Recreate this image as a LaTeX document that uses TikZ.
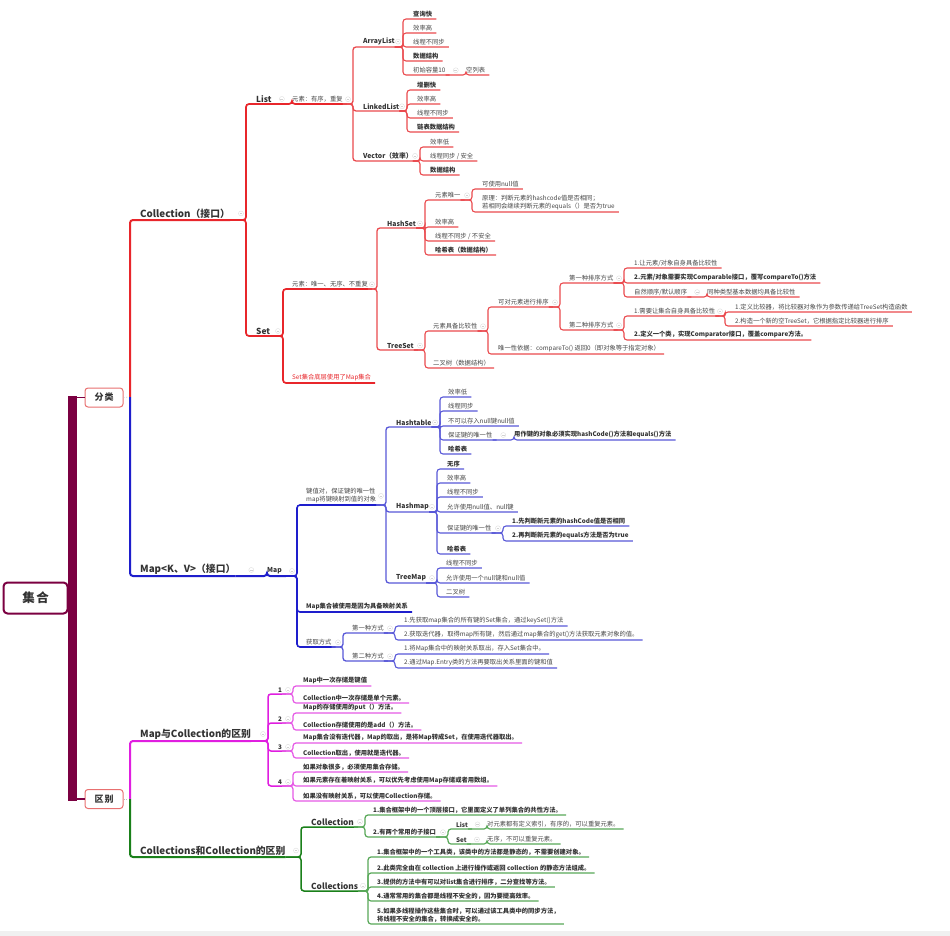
\documentclass[tikz,border=0pt]{standalone}
\usepackage{fontspec}
\setmainfont{Noto Sans CJK SC}
\usetikzlibrary{calc}
\definecolor{cred}{HTML}{E8262B}
\definecolor{credl}{HTML}{EA4A4E}
\definecolor{cblue}{HTML}{1E1ECC}
\definecolor{cbluel}{HTML}{5858D8}
\definecolor{cmag}{HTML}{E01EE0}
\definecolor{cmagl}{HTML}{E65AE6}
\definecolor{cgreen}{HTML}{1A801A}
\definecolor{cgreenl}{HTML}{58A858}
\definecolor{maroon}{HTML}{7B0041}
\definecolor{txt}{HTML}{474747}
\definecolor{txtb}{HTML}{333333}
\definecolor{boxr}{HTML}{E87070}
\newcommand\lk[4]{\draw[#1] (#2.south east) -- (#2.south east -| #3) |- ($(#4.south east)+(4,0)$);}
\tikzset{
  tx/.style={anchor=south west, inner xsep=0pt, inner ysep=1.6pt, text=txt, align=left, font=\fontsize{6.3}{7.8}\selectfont},
  txb/.style={tx, text=txtb, font=\fontsize{6.3}{7.8}\selectfont\bfseries},
  hd/.style={tx, text=txtb, font=\fontsize{6.8}{8}\selectfont\bfseries},
  hdm/.style={tx, text=txtb, font=\fontsize{8.3}{9.5}\selectfont\bfseries},
  big/.style={tx, text=txtb, font=\fontsize{9.8}{11}\selectfont\bfseries},
  redtx/.style={tx, text=cred},
  boxn/.style={draw=boxr, line width=1pt, rounded corners=3pt, fill=white, text=txtb, font=\fontsize{9}{10}\selectfont\bfseries, minimum width=38pt, minimum height=19pt, inner sep=0pt},
  rootbox/.style={draw=maroon, line width=2pt, rounded corners=4pt, fill=white, text=txtb, font=\fontsize{12.5}{14}\selectfont\bfseries, minimum width=64pt, minimum height=31pt, inner sep=0pt},
  br/.style={rounded corners=3pt},
  lR0/.style={br, cred, line width=2pt}, lR1/.style={br, cred, line width=1.7pt}, lR2/.style={br, credl, line width=1.3pt}, lR3/.style={br, credl, line width=1.1pt},
  lB0/.style={br, cblue, line width=2pt}, lB1/.style={br, cblue, line width=1.6pt}, lB2/.style={br, cbluel, line width=1.3pt}, lB3/.style={br, cbluel, line width=1.1pt},
  lM0/.style={br, cmag, line width=2pt}, lM1/.style={br, cmag, line width=1.5pt}, lM2/.style={br, cmagl, line width=1.2pt},
  lG0/.style={br, cgreen, line width=2pt}, lG1/.style={br, cgreen, line width=1.5pt}, lG2/.style={br, cgreenl, line width=1.2pt},
  fold/.style={circle, draw=gray!28, line width=0.35pt, inner sep=0pt, minimum size=5pt, fill=white,
    path picture={\draw[gray!35, line width=0.35pt] ([xshift=-1.4pt]path picture bounding box.center) -- ([xshift=1.4pt]path picture bounding box.center);}},
}
\begin{document}
\begin{tikzpicture}[x=1pt,y=-1pt]
\useasboundingbox (0,0) rectangle (950,936);
\fill[white] (0,0) rectangle (950,936);
\fill[gray!12] (0,931) rectangle (950,936);
% bus coordinates
\coordinate (b0) at (130,397);
\coordinate (b1) at (130,799);
\coordinate (vC) at (246,0);   \coordinate (vL) at (353,0);
\coordinate (vA) at (403,0);   \coordinate (vK) at (407,0);
\coordinate (vV) at (420,0);   \coordinate (vS) at (283,0);
\coordinate (vSE) at (377,0);  \coordinate (vH) at (425,0);
\coordinate (vH1) at (472,0);  \coordinate (vT) at (425,0);
\coordinate (vT1) at (488,0);  \coordinate (vT11) at (560,0);
\coordinate (vT111) at (624,0);\coordinate (vS1) at (725,0);
\coordinate (vM) at (297,0);   \coordinate (vM1) at (386,0);
\coordinate (vHt) at (440,0);  \coordinate (vHm) at (437,0);
\coordinate (vHm5) at (503,0); \coordinate (vTm) at (437,0);
\coordinate (vM3) at (343,0);  \coordinate (vG) at (395,0);
\coordinate (vMC) at (268,0);  \coordinate (vN) at (293,0);
\coordinate (vCC) at (301,0);  \coordinate (vC1) at (365,0);
\coordinate (vC12) at (448,0); \coordinate (vC2) at (368,0);

% root
\fill[maroon] (68,396) rectangle (77,801);
\node[rootbox] (root) at (35.5,598) {集\hspace{1.5pt}合};
\node[boxn] (fenlei) at (104,397.5) {分\hspace{1pt}类};
\node[boxn] (qubie) at (104,799) {区\hspace{1pt}别};
\draw[maroon, line width=1.6pt] (77,397.5) -- (fenlei.west);
\draw[maroon, line width=1.6pt] (77,799) -- (qubie.west);
\draw[gray!50, dotted, line width=0.8pt] (fenlei.east) -- (b0);
\draw[gray!50, dotted, line width=0.8pt] (qubie.east) -- (b1);

% ===== Collection branch =====
\node[big] (coll) at (140,220) {Collection（接口）};
\node[hdm] (list) at (256,104) {List};
\node[tx] (lel) at (292,104) {元素：有序，重复};
\node[hd] (arr) at (363,47) {ArrayList};
\node[txb] (a1) at (413,19) {查询快};
\node[tx] (a2) at (413,33) {效率高};
\node[tx] (a3) at (413,47) {线程不同步};
\node[txb] (a4) at (413,61) {数据结构};
\node[tx] (a5) at (413,75) {初始容量10};
\node[tx] (a6) at (466,75) {空列表};
\node[hd] (lnk) at (363,111) {LinkedList};
\node[txb] (k1) at (417,90) {增删快};
\node[tx] (k2) at (417,104) {效率高};
\node[tx] (k3) at (417,118) {线程不同步};
\node[txb] (k4) at (417,132) {链表数据结构};
\node[hd] (vec) at (363,161) {Vector（效率）};
\node[tx] (v1) at (430,147) {效率低};
\node[tx] (v2) at (430,161) {线程同步 / 安全};
\node[txb] (v3) at (430,175) {数据结构};
\node[hdm] (set) at (256,336) {Set};
\node[tx] (sel) at (292,289) {元素：唯一、无序、不重复};
\node[hd] (hs) at (387,228) {HashSet};
\node[tx] (h1) at (435,200) {元素唯一};
\node[tx] (h11) at (482,189) {可使用null值};
\node[tx] (h12) at (482,212) {原理：判断元素的hashcode值是否相同；\\若相同会继续判断元素的equals（）是否为true};
\node[tx] (h2) at (435,227) {效率高};
\node[tx] (h3) at (435,241) {线程不同步 / 不安全};
\node[txb] (h4) at (435,255) {哈希表（数据结构）};
\node[hd] (ts) at (387,350) {TreeSet};
\node[tx] (t1) at (433,331) {元素具备比较性};
\node[tx] (t11) at (498,307) {可对元素进行排序};
\node[tx] (t111) at (569,283) {第一种排序方式};
\node[tx] (f1) at (634,268) {1.让元素/对象自身具备比较性};
\node[txb] (f2) at (634,283) {2.元素/对象需要实现Comparable接口，覆写compareTo()方法};
\node[tx] (f3) at (634,297) {自然顺序/默认顺序};
\node[tx] (f31) at (707,297) {同种类型基本数据均具备比较性};
\node[tx] (t112) at (569,330) {第二种排序方式};
\node[tx] (s1) at (634,316) {1.需要让集合自身具备比较性};
\node[tx] (s11) at (735,312) {1.定义比较器，将比较器对象作为参数传递给TreeSet构造函数};
\node[tx] (s12) at (735,326) {2.构造一个新的空TreeSet，它根据指定比较器进行排序};
\node[txb] (s2) at (634,340) {2.定义一个类，实现Comparator接口，覆盖compare方法。};
\node[tx] (t12) at (498,354) {唯一性依据：compareTo() 返回0（即对象等于指定对象）};
\node[tx] (t2) at (433,368) {二叉树（数据结构）};
\node[redtx] (sred) at (292,383) {Set集合底层使用了Map集合};

\draw[lR0] (b0) |- (coll.south east);
\lk{lR1}{coll}{vC}{list} \lk{lR1}{coll}{vC}{set}
\lk{lR1}{list}{lel.south west}{lel}
\foreach \c in {arr,lnk,vec} {\lk{lR2}{lel}{vL}{\c}}
\foreach \c in {a1,a2,a3,a4,a5} {\lk{lR3}{arr}{vA}{\c}}
\lk{lR3}{a5}{a6.south west}{a6}
\foreach \c in {k1,k2,k3,k4} {\lk{lR3}{lnk}{vK}{\c}}
\foreach \c in {v1,v2,v3} {\lk{lR3}{vec}{vV}{\c}}
\lk{lR1}{set}{vS}{sel} \lk{lR1}{set}{vS}{sred}
\lk{lR2}{sel}{vSE}{hs} \lk{lR2}{sel}{vSE}{ts}
\foreach \c in {h1,h2,h3,h4} {\lk{lR3}{hs}{vH}{\c}}
\lk{lR3}{h1}{vH1}{h11} \lk{lR3}{h1}{vH1}{h12}
\lk{lR3}{ts}{vT}{t1} \lk{lR3}{ts}{vT}{t2}
\lk{lR3}{t1}{vT1}{t11} \lk{lR3}{t1}{vT1}{t12}
\lk{lR3}{t11}{vT11}{t111} \lk{lR3}{t11}{vT11}{t112}
\foreach \c in {f1,f2,f3} {\lk{lR3}{t111}{vT111}{\c}}
\lk{lR3}{f3}{f31.south west}{f31}
\lk{lR3}{t112}{vT111}{s1} \lk{lR3}{t112}{vT111}{s2}
\lk{lR3}{s1}{vS1}{s11} \lk{lR3}{s1}{vS1}{s12}

% ===== Map branch =====
\node[big] (mapk) at (140,576) {Map<K、V>（接口）};
\node[hd] (map) at (267,576) {Map};
\node[tx] (m1) at (306,505) {键值对，保证键的唯一性\\map将键映射到值的对象};
\node[hd] (ht) at (396,427) {Hashtable};
\node[tx] (ht1) at (448,397) {效率低};
\node[tx] (ht2) at (448,411) {线程同步};
\node[tx] (ht3) at (448,426) {不可以存入null键null值};
\node[tx] (ht4) at (448,440) {保证键的唯一性};
\node[txb] (ht41) at (514,440) {用作键的对象必须实现hashCode()方法和equals()方法};
\node[txb] (ht5) at (448,454) {哈希表};
\node[hd] (hm) at (396,512) {Hashmap};
\node[txb] (hm1) at (447,469) {无序};
\node[tx] (hm2) at (447,483) {效率高};
\node[tx] (hm3) at (447,497) {线程不同步};
\node[tx] (hm4) at (447,512) {允许使用null值、null键};
\node[tx] (hm5) at (447,533) {保证键的唯一性};
\node[txb] (hm51) at (512,526) {1.先判断新元素的hashCode值是否相同};
\node[txb] (hm52) at (512,541) {2.再判断新元素的equals方法是否为true};
\node[txb] (hm6) at (447,554) {哈希表};
\node[hd] (tm) at (396,583) {TreeMap};
\node[tx] (tm1) at (446,568) {线程不同步};
\node[tx] (tm2) at (446,583) {允许使用一个null键和null值};
\node[tx] (tm3) at (446,597) {二叉树};
\node[txb] (m2) at (306,612) {Map集合被使用是因为具备映射关系};
\node[tx] (m3) at (306,647) {获取方式};
\node[tx] (g1) at (352,633) {第一种方式};
\node[tx] (g11) at (404,626) {1.先获取map集合的所有键的Set集合，通过keySet()方法};
\node[tx] (g12) at (404,640) {2.获取迭代器，取得map所有键，然后通过map集合的get()方法获取元素对象的值。};
\node[tx] (g2) at (352,661) {第二种方式};
\node[tx] (g21) at (404,654) {1.将Map集合中的映射关系取出，存入Set集合中。};
\node[tx] (g22) at (404,668) {2.通过Map.Entry类的方法再要取出关系里面的键和值};

\draw[lB0] (b0) |- (mapk.south east);
\lk{lB0}{mapk}{map.south west}{map}
\foreach \c in {m1,m2,m3} {\lk{lB1}{map}{vM}{\c}}
\foreach \c in {ht,hm,tm} {\lk{lB2}{m1}{vM1}{\c}}
\foreach \c in {ht1,ht2,ht3,ht4,ht5} {\lk{lB3}{ht}{vHt}{\c}}
\lk{lB3}{ht4}{ht41.south west}{ht41}
\foreach \c in {hm1,hm2,hm3,hm4,hm5,hm6} {\lk{lB3}{hm}{vHm}{\c}}
\lk{lB3}{hm5}{vHm5}{hm51} \lk{lB3}{hm5}{vHm5}{hm52}
\foreach \c in {tm1,tm2,tm3} {\lk{lB3}{tm}{vTm}{\c}}
\lk{lB2}{m3}{vM3}{g1} \lk{lB2}{m3}{vM3}{g2}
\lk{lB3}{g1}{vG}{g11} \lk{lB3}{g1}{vG}{g12}
\lk{lB3}{g2}{vG}{g21} \lk{lB3}{g2}{vG}{g22}

% ===== Map与Collection的区别 =====
\node[big] (mc) at (140,741) {Map与Collection的区别};
\node[txb] (n1) at (278,694) {1};
\node[txb] (n11) at (303,686) {Map中一次存储是键值};
\node[txb] (n12) at (303,703) {Collection中一次存储是单个元素。};
\node[txb] (n2) at (278,723) {2};
\node[txb] (n21) at (303,713) {Map的存储使用的put（）方法。};
\node[txb] (n22) at (303,730) {Collection存储使用的是add（）方法。};
\node[txb] (n3) at (278,751) {3};
\node[txb] (n31) at (303,743) {Map集合没有迭代器，Map的取出，是将Map转成Set，在使用迭代器取出。};
\node[txb] (n32) at (303,758) {Collection取出，使用就是迭代器。};
\node[txb] (n4) at (278,786) {4};
\node[txb] (n41) at (303,772) {如果对象很多，必须使用集合存储。};
\node[txb] (n42) at (303,786) {如果元素存在着映射关系，可以优先考虑使用Map存储或者用数组。};
\node[txb] (n43) at (303,801) {如果没有映射关系，可以使用Collection存储。};

\draw[lM0] (b1) |- (mc.south east);
\foreach \c in {n1,n2,n3,n4} {\lk{lM1}{mc}{vMC}{\c}}
\lk{lM2}{n1}{vN}{n11} \lk{lM2}{n1}{vN}{n12}
\lk{lM2}{n2}{vN}{n21} \lk{lM2}{n2}{vN}{n22}
\lk{lM2}{n3}{vN}{n31} \lk{lM2}{n3}{vN}{n32}
\foreach \c in {n41,n42,n43} {\lk{lM2}{n4}{vN}{\c}}

% ===== Collections和Collection的区别 =====
\node[big] (cc) at (140,857) {Collections和Collection的区别};
\node[hdm] (c1) at (311,827) {Collection};
\node[txb] (c11) at (373,815) {1.集合框架中的一个顶层接口，它里面定义了单列集合的共性方法。};
\node[txb] (c12) at (373,837) {2.有两个常用的子接口};
\node[txb] (c121) at (456,829) {List};
\node[tx] (c1211) at (487,829) {对元素都有定义索引，有序的，可以重复元素。};
\node[txb] (c122) at (456,844) {Set};
\node[tx] (c1221) at (487,844) {无序，不可以重复元素。};
\node[hdm] (c2) at (311,891) {Collections};
\node[txb] (c21) at (377,857) {1.集合框架中的一个工具类，该类中的方法都是静态的，不需要创建对象。};
\node[txb] (c22) at (377,873) {2.此类完全由在 collection 上进行操作或返回 collection 的静态方法组成。};
\node[txb] (c23) at (377,887) {3.提供的方法中有可以对list集合进行排序，二分查找等方法。};
\node[txb] (c24) at (377,901) {4.通常常用的集合都是线程不安全的，因为要提高效率。};
\node[txb] (c25) at (377,924) {5.如果多线程操作这些集合时，可以通过该工具类中的同步方法，\\将线程不安全的集合，转换成安全的。};

\draw[lG0] (b1) |- (cc.south east);
\lk{lG1}{cc}{vCC}{c1} \lk{lG1}{cc}{vCC}{c2}
\lk{lG2}{c1}{vC1}{c11} \lk{lG2}{c1}{vC1}{c12}
\lk{lG2}{c12}{vC12}{c121} \lk{lG2}{c12}{vC12}{c122}
\lk{lG2}{c121}{c1211.south west}{c1211}
\lk{lG2}{c122}{c1221.south west}{c1221}
\foreach \c in {c21,c22,c23,c24,c25} {\lk{lG2}{c2}{vC2}{\c}}

% fold icons
\foreach \p/\b in {coll/vC, lel/vL, arr/vA, lnk/vK, vec/vV, set/vS, sel/vSE, hs/vH, h1/vH1, ts/vT, t1/vT1, t11/vT11, t111/vT111, t112/vT111, s1/vS1, map/vM, m1/vM1, ht/vHt, hm/vHm, hm5/vHm5, tm/vTm, m3/vM3, g1/vG, g2/vG, mc/vMC, n1/vN, n2/vN, n3/vN, n4/vN, cc/vCC, c1/vC1, c12/vC12, c2/vC2}
  \node[fold] (fd-\p) at ($(\p.center -| \b)+(-5,0)$) {};
\foreach \p/\c in {list/lel, a5/a6, f3/f31, mapk/map, ht4/ht41, c121/c1211, c122/c1221}
  \node[fold] (fd-\p) at ($(\p.east)!0.5!(\c.west)$) {};
\end{tikzpicture}
\end{document}
